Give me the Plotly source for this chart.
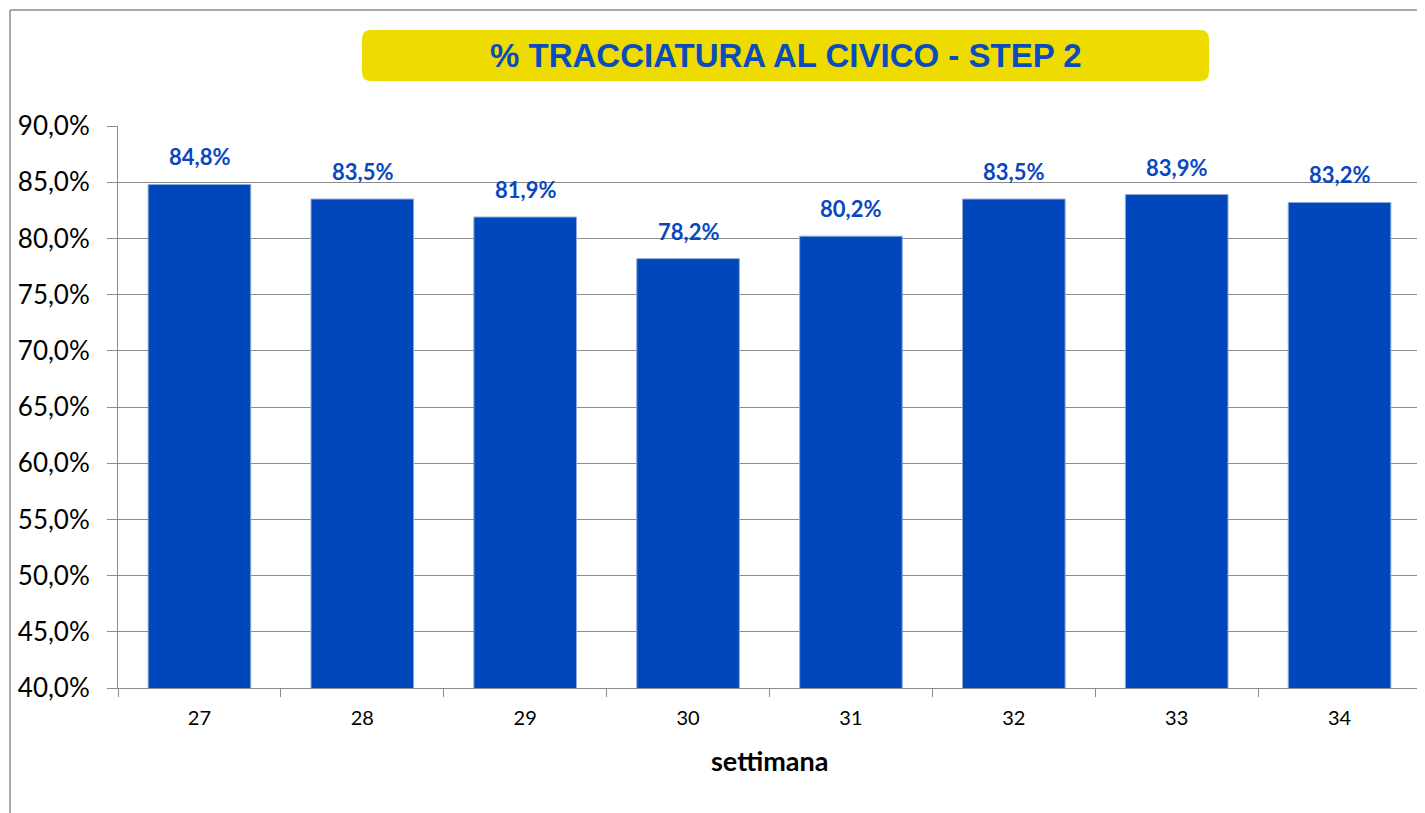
import plotly.graph_objects as go

weeks = ["27", "28", "29", "30", "31", "32", "33", "34"]
values = [84.8, 83.5, 81.9, 78.2, 80.2, 83.5, 83.9, 83.2]
title_text = "% TRACCIATURA AL CIVICO - STEP 2"
x_title = "settimana"

O = 8  # page body margin offset
W, H = 1425 - O, 813 - O
L, R, T, B = 118 - O, 1421 - O, 126 - O, 688 - O
pw, ph = R - L, B - T

def px(x):
    return (x - O - L) / pw

def py(y):
    return (B - (y - O)) / ph

fig = go.Figure()
fig.add_trace(go.Bar(
    x=list(range(len(weeks))), y=values,
    marker=dict(color="#0047BB", line=dict(color="#8EA9DB", width=1)),
    width=0.63,
    hoverinfo="skip",
))

# data labels
for i, v in enumerate(values):
    fig.add_annotation(
        x=i, y=v, xref="x", yref="y",
        text=f"{v:.1f}%".replace(".", ","),
        showarrow=False, yanchor="bottom", yshift=12,
        font=dict(family="Lato, Carlito, Calibri, sans-serif", size=22, color="#0A47BF", weight="bold"),
    )

# title box (rounded rectangle)
x0, x1, y0, y1, r = 362, 1209, 30, 81, 9
path = (
    f"M {px(x0 + r)},{py(y0)} L {px(x1 - r)},{py(y0)} "
    f"Q {px(x1)},{py(y0)} {px(x1)},{py(y0 + r)} L {px(x1)},{py(y1 - r)} "
    f"Q {px(x1)},{py(y1)} {px(x1 - r)},{py(y1)} L {px(x0 + r)},{py(y1)} "
    f"Q {px(x0)},{py(y1)} {px(x0)},{py(y1 - r)} L {px(x0)},{py(y0 + r)} "
    f"Q {px(x0)},{py(y0)} {px(x0 + r)},{py(y0)} Z"
)
fig.add_shape(type="path", path=path, xref="paper", yref="paper",
              fillcolor="#EEDC00", line=dict(width=0), layer="below")
fig.add_annotation(
    x=px((x0 + x1) / 2), y=py((y0 + y1) / 2), xref="paper", yref="paper",
    text=f"<b>{title_text}</b>", showarrow=False,
    font=dict(family="Liberation Sans, Arial, sans-serif", size=33, color="#0A4BBE"),
    xanchor="center", yanchor="middle",
)

# outer chart border
fig.add_shape(type="line", xref="paper", yref="paper",
              x0=px(10), x1=px(10), y0=py(10), y1=py(813), line=dict(color="#8C8C8C", width=1.5))
fig.add_shape(type="line", xref="paper", yref="paper",
              x0=px(10), x1=px(1425), y0=py(10), y1=py(10), line=dict(color="#8C8C8C", width=1.5))

# axis title
fig.add_annotation(
    x=0.5, y=py(760), xref="paper", yref="paper", text=f"<b>{x_title}</b>",
    showarrow=False, xanchor="center", yanchor="middle",
    font=dict(family="Lato, Carlito, Calibri, sans-serif", size=27, color="#000000"),
)

fig.update_layout(
    width=W, height=H,
    margin=dict(l=L, r=W - R, t=T, b=H - B, pad=0),
    paper_bgcolor="white", plot_bgcolor="white",
    showlegend=False,
    separators=",.",
)
fig.update_yaxes(
    range=[40, 90], dtick=5, tickformat=".1f", ticksuffix="%",
    showgrid=True, gridcolor="#8C8C8C", gridwidth=1,
    showline=True, linecolor="#8C8C8C", linewidth=1,
    ticks="outside", ticklen=10, tickcolor="#8C8C8C",
    tickfont=dict(family="Lato, Carlito, Calibri, sans-serif", size=26, color="#000000"),
    ticklabelstandoff=12,
    zeroline=False, fixedrange=True,
)
fig.update_xaxes(
    range=[-0.5, len(weeks) - 0.5],
    tickmode="array", tickvals=list(range(len(weeks))), ticktext=weeks,
    ticks="", showgrid=False,
    showline=True, linecolor="#8C8C8C", linewidth=1,
    tickfont=dict(family="Lato, Carlito, Calibri, sans-serif", size=20, color="#000000"),
    ticklabelstandoff=12,
    zeroline=False, fixedrange=True,
)
# category boundary ticks on x axis (minor ticks)
fig.update_xaxes(minor=dict(tickmode="array", tickvals=[i - 0.5 for i in range(len(weeks) + 1)],
                            ticks="outside", ticklen=8, tickcolor="#8C8C8C", showgrid=False))

fig.write_html("out.html", config={"displayModeBar": False})
